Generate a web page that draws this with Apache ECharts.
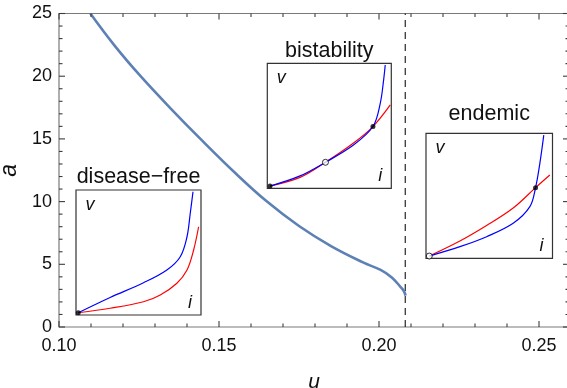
<!DOCTYPE html>
<html><head><meta charset="utf-8">
<script src="https://cdn.jsdelivr.net/npm/echarts@6/dist/echarts.min.js"></script>
<style>html,body{margin:0;padding:0;background:#fff}#c{width:567px;height:388px}</style>
</head><body><div id="c"></div>
<script>
// ---- data ----
const mainU = [0.1098, 0.1175, 0.1255, 0.1350, 0.1442, 0.1550, 0.1650, 0.1750, 0.1850, 0.1950, 0.2005, 0.2040, 0.2067, 0.2078, 0.2083];
const mainA = [25.0, 22.4, 20.0, 17.4, 15.0, 12.3, 10.0, 8.05, 6.45, 5.15, 4.55, 3.95, 3.2, 2.85, 2.5];
const thresholdU = 0.2082;
const xMajorTicks = [0.10, 0.15, 0.20, 0.25];
const xMinorTicks = [0.11, 0.12, 0.13, 0.14, 0.16, 0.17, 0.18, 0.19, 0.21, 0.22, 0.23, 0.24];
const yMajorTicks = [0, 5, 10, 15, 20, 25];
const yMinorTicks = [1, 2, 3, 4, 6, 7, 8, 9, 11, 12, 13, 14, 16, 17, 18, 19, 21, 22, 23, 24];

const insetTitles = ['disease\u2212free', 'bistability', 'endemic'];
// inset curves (normalized i, v)
const dfBlueX = [0.018, 0.273, 0.540, 0.727, 0.834, 0.888, 0.914, 0.936];
const dfBlueY = [0.018, 0.140, 0.258, 0.360, 0.466, 0.626, 0.814, 0.986];
const dfRedX  = [0.018, 0.273, 0.540, 0.674, 0.807, 0.888, 0.941, 0.981];
const dfRedY  = [0.018, 0.054, 0.106, 0.160, 0.254, 0.360, 0.520, 0.706];
const dfFilled = [[0.018, 0.018]];
const dfOpen = [];

const bsBlueX = [0.022, 0.264, 0.469, 0.695, 0.852, 0.911, 0.938, 0.951];
const bsBlueY = [0.018, 0.099, 0.208, 0.346, 0.494, 0.680, 0.866, 0.986];
const bsRedX  = [0.022, 0.264, 0.469, 0.695, 0.852, 0.992];
const bsRedY  = [0.018, 0.087, 0.208, 0.362, 0.494, 0.667];
const bsFilled = [[0.022, 0.018], [0.852, 0.494]];
const bsOpen = [[0.469, 0.208]];

const enBlueX = [0.026, 0.268, 0.479, 0.689, 0.821, 0.866, 0.900, 0.931];
const enBlueY = [0.018, 0.093, 0.173, 0.280, 0.413, 0.565, 0.760, 0.986];
const enRedX  = [0.026, 0.268, 0.479, 0.689, 0.866, 0.979];
const enRedY  = [0.018, 0.138, 0.262, 0.402, 0.565, 0.666];
const enFilled = [[0.866, 0.565]];
const enOpen = [[0.026, 0.018]];

// ---- layout ----
const FONT = '"Liberation Sans", Arial, sans-serif';
const main = {left: 59, top: 13.5, width: 510, height: 313.5};
const xMin = 0.10, xMax = 0.10 + 0.05 * main.width / 160, yMin = 0, yMax = 25;
const insets = [
  {left: 76, top: 190, width: 125, height: 125, titleY: 177},
  {left: 267.3, top: 63.3, width: 124, height: 125, titleY: 51},
  {left: 426, top: 133.3, width: 126.5, height: 125, titleY: 114}
];
const insetData = [
  {bx: dfBlueX, by: dfBlueY, rx: dfRedX, ry: dfRedY, f: dfFilled, o: dfOpen},
  {bx: bsBlueX, by: bsBlueY, rx: bsRedX, ry: bsRedY, f: bsFilled, o: bsOpen},
  {bx: enBlueX, by: enBlueY, rx: enRedX, ry: enRedY, f: enFilled, o: enOpen}
];
const zip = (a, b) => a.map((v, i) => [v, b[i]]);

const AX = 'rgb(122,122,122)', TK = 'rgb(60,60,60)';
const grids = [Object.assign({show: true, borderColor: AX, borderWidth: 1.2,
  backgroundColor: 'rgba(0,0,0,0)', outerBoundsMode: 'none', containLabel: false}, main)];
insets.forEach(g => grids.push({left: g.left, top: g.top, width: g.width, height: g.height,
  show: true, backgroundColor: '#fff', borderColor: '#333', borderWidth: 1.2,
  outerBoundsMode: 'none', containLabel: false, z: 5}));

const xAxes = [{type: 'value', gridIndex: 0, min: xMin, max: xMax, interval: 0.05, position: 'bottom',
  splitLine: {show: false}, axisLine: {show: false}, axisTick: {show: false},
  axisLabel: {showMaxLabel: false, margin: 10, color: '#111', fontSize: 18, fontFamily: FONT,
    formatter: v => xMajorTicks.some(t => Math.abs(t - v) < 1e-9) ? v.toFixed(2) : ''},
  name: 'u', nameLocation: 'middle', nameGap: 45,
  nameTextStyle: {fontStyle: 'italic', fontSize: 21, color: '#111', fontFamily: FONT}}];
const yAxes = [{type: 'value', gridIndex: 0, min: yMin, max: yMax, interval: 5, position: 'left',
  splitLine: {show: false}, axisLine: {show: false}, axisTick: {show: false},
  axisLabel: {margin: 7, color: '#111', fontSize: 18, fontFamily: FONT},
  name: 'a', nameLocation: 'middle', nameGap: 30,
  nameTextStyle: {fontStyle: 'italic', fontSize: 23, color: '#111', fontFamily: FONT}}];
insets.forEach((g, k) => {
  xAxes.push({type: 'value', gridIndex: k + 1, min: 0, max: 1, show: false});
  yAxes.push({type: 'value', gridIndex: k + 1, min: 0, max: 1, show: false});
});

const series = [
  {type: 'line', xAxisIndex: 0, yAxisIndex: 0, data: zip(mainU, mainA), smooth: 0.4,
    symbol: 'none', lineStyle: {color: '#5E81B5', width: 2.6}, z: 3},
  {type: 'line', xAxisIndex: 0, yAxisIndex: 0, data: [[thresholdU, yMin], [thresholdU, yMax]],
    symbol: 'none', lineStyle: {color: '#111', width: 1.1, type: [7, 5]}, z: 2}
];

// frame ticks (inward on all four sides) as thin rect symbols placed through the axis scales
const MAJ = 6, MIN = 3.5, TW = 1.1;
function tickSeries(data, len, horizontal, dir) {
  return {type: 'scatter', xAxisIndex: 0, yAxisIndex: 0, data: data, symbol: 'rect',
    symbolSize: horizontal ? [len, TW] : [TW, len],
    symbolOffset: horizontal ? [dir * len / 2, 0] : [0, dir * len / 2],
    itemStyle: {color: TK, opacity: 1}, silent: true, clip: false, z: 8,
    emphasis: {disabled: true}};
}
[[xMajorTicks, MAJ], [xMinorTicks, MIN]].forEach(([arr, len]) => {
  series.push(tickSeries(arr.map(v => [v, yMin]), len, false, -1)); // bottom, pointing up
  series.push(tickSeries(arr.map(v => [v, yMax]), len, false, 1));  // top, pointing down
});
[[yMajorTicks, MAJ], [yMinorTicks, MIN]].forEach(([arr, len]) => {
  series.push(tickSeries(arr.map(v => [xMin, v]), len, true, 1));   // left, pointing right
  series.push(tickSeries(arr.map(v => [xMax, v]), len, true, -1));  // right, pointing left
});

insetData.forEach((d, k) => {
  const xi = 1 + k, yi = 1 + k;
  series.push({type: 'line', xAxisIndex: xi, yAxisIndex: yi, data: zip(d.rx, d.ry), smooth: 0.35,
    symbol: 'none', lineStyle: {color: '#ff0000', width: 1.2}, z: 10});
  series.push({type: 'line', xAxisIndex: xi, yAxisIndex: yi, data: zip(d.bx, d.by), smooth: 0.35,
    symbol: 'none', lineStyle: {color: '#0000ff', width: 1.2}, z: 10});
  series.push({type: 'scatter', xAxisIndex: xi, yAxisIndex: yi, data: d.f, symbolSize: 5,
    itemStyle: {color: '#000'}, z: 12, clip: false});
  series.push({type: 'scatter', xAxisIndex: xi, yAxisIndex: yi, data: d.o, symbolSize: 6,
    itemStyle: {color: '#fff', borderColor: '#000', borderWidth: 1}, z: 12, clip: false});
});

const graphic = [];
insets.forEach((g, k) => {
  graphic.push({type: 'text', z: 20, style: {text: insetTitles[k], x: g.left + g.width / 2, y: g.titleY,
    textAlign: 'center', textVerticalAlign: 'middle', font: '21.5px ' + FONT, fill: '#111'}});
  graphic.push({type: 'text', z: 20, style: {text: 'v', x: g.left + 14, y: g.top + 15,
    textAlign: 'center', textVerticalAlign: 'middle', font: 'italic 18px ' + FONT, fill: '#111'}});
  graphic.push({type: 'text', z: 20, style: {text: 'i', x: g.left + g.width - 11, y: g.top + g.height - 12,
    textAlign: 'center', textVerticalAlign: 'middle', font: 'italic 18px ' + FONT, fill: '#111'}});
});

const chart = echarts.init(document.getElementById('c'), null, {renderer: 'canvas'});
chart.setOption({
  animation: false,
  grid: grids, xAxis: xAxes, yAxis: yAxes, series: series, graphic: graphic
});
</script></body></html>
